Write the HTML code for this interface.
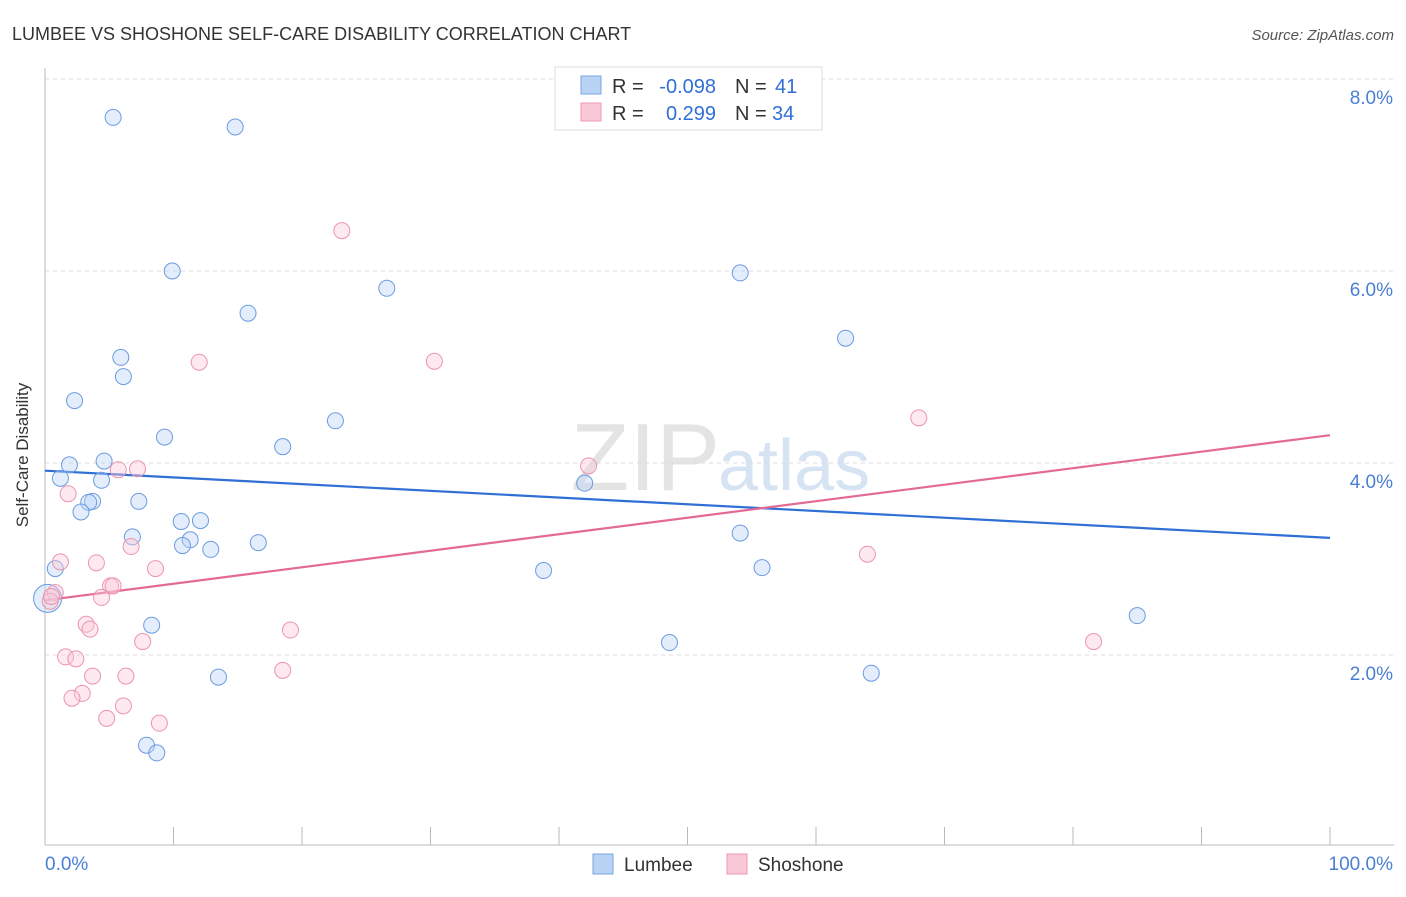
<!DOCTYPE html>
<html><head><meta charset="utf-8"><style>
body{margin:0;background:#fff;font-family:"Liberation Sans",sans-serif}
svg text{font-family:"Liberation Sans",sans-serif}
</style></head><body>
<svg id="c" width="1406" height="892" xmlns="http://www.w3.org/2000/svg">
<text x="12" y="40" font-size="18" fill="#333">LUMBEE VS SHOSHONE SELF-CARE DISABILITY CORRELATION CHART</text>
<text x="1394" y="40" font-size="15" fill="#555" text-anchor="end" font-style="italic">Source: ZipAtlas.com</text>
<text x="720" y="490" font-size="96" fill="#e4e4e4" text-anchor="end" font-family="Liberation Serif">ZIP</text>
<text x="718" y="490" font-size="72" fill="#d6e3f3">atlas</text>
<g id="grid"></g><g id="axes"></g><g id="trend"></g><g id="pts"></g>
<g>
<rect x="555" y="67" width="267" height="63" fill="#fff" stroke="#ddd"/>
<rect x="581" y="76" width="20" height="18" fill="#b9d3f5" stroke="#7aa6e0"/>
<rect x="581" y="103" width="20" height="18" fill="#f9c8d6" stroke="#ec9ab3"/>
<text x="612" y="93" font-size="20" fill="#333">R =</text>
<text x="716" y="93" font-size="20" fill="#2f6fd6" text-anchor="end">-0.098</text>
<text x="735" y="93" font-size="20" fill="#333">N =</text>
<text x="775" y="93" font-size="20" fill="#2f6fd6">41</text>
<text x="612" y="120" font-size="20" fill="#333">R =</text>
<text x="716" y="120" font-size="20" fill="#2f6fd6" text-anchor="end">0.299</text>
<text x="735" y="120" font-size="20" fill="#333">N =</text>
<text x="772" y="120" font-size="20" fill="#2f6fd6">34</text>
</g>
<g>
<rect x="593" y="854" width="20" height="20" fill="#b9d3f5" stroke="#7aa6e0"/>
<text x="624" y="871" font-size="19" fill="#333">Lumbee</text>
<rect x="727" y="854" width="20" height="20" fill="#f9c8d6" stroke="#ec9ab3"/>
<text x="758" y="871" font-size="19" fill="#333">Shoshone</text>
</g>
<text x="28" y="455" font-size="17" fill="#333" text-anchor="middle" transform="rotate(-90 28 455)">Self-Care Disability</text>
</svg>
<script>
const yTicks=[2,4,6,8];
const yTickLabels=["2.0%","4.0%","6.0%","8.0%"];
const xTickLabels=["0.0%","100.0%"];
const lumbeeX=[5.3,14.8,9.9,26.6,54.1,15.8,62.3,5.9,6.1,2.3,22.6,9.3,18.5,1.9,4.6,1.2,4.4,3.7,3.4,7.3,2.8,10.6,12.1,6.8,11.3,10.7,12.9,16.6,42.0,54.1,0.8,38.8,55.8,0.2,8.3,85.0,48.6,13.5,64.3,7.9,8.7];
const lumbeeY=[7.6,7.5,6.0,5.82,5.98,5.56,5.3,5.1,4.9,4.65,4.44,4.27,4.17,3.98,4.02,3.84,3.82,3.6,3.59,3.6,3.49,3.39,3.4,3.23,3.2,3.14,3.1,3.17,3.79,3.27,2.9,2.88,2.91,2.59,2.31,2.41,2.13,1.77,1.81,1.06,0.98];
const lumbeeR=[8,8,8,8,8,8,8,8,8,8,8,8,8,8,8,8,8,8,8,8,8,8,8,8,8,8,8,8,8,8,8,8,8,14,8,8,8,8,8,8,8];
const shoshoneX=[23.1,12.0,30.3,68.0,5.7,7.2,42.3,1.8,6.7,1.2,4.0,8.6,64.0,5.1,5.3,4.4,0.8,0.4,3.2,3.5,19.1,7.6,81.6,1.6,2.4,3.7,6.3,18.5,2.9,2.1,6.1,4.8,8.9,0.5];
const shoshoneY=[6.42,5.05,5.06,4.47,3.93,3.94,3.97,3.68,3.13,2.97,2.96,2.9,3.05,2.72,2.72,2.6,2.65,2.56,2.32,2.27,2.26,2.14,2.14,1.98,1.96,1.78,1.78,1.84,1.6,1.55,1.47,1.34,1.29,2.61];
const lumbeeTrend=[3.92,3.22];
const shoshoneTrend=[2.57,4.29];
const NS="http://www.w3.org/2000/svg";
const X=v=>45+v*12.85, Y=v=>847-v*96;
function mk(t,a,p){const e=document.createElementNS(NS,t);for(const k in a)e.setAttribute(k,a[k]);p.appendChild(e);return e;}
const grid=document.getElementById('grid'),axes=document.getElementById('axes'),tr=document.getElementById('trend'),pts=document.getElementById('pts');
yTicks.forEach((t,i)=>{
 const l=mk('line',{x1:45,x2:1394,y1:Y(t),y2:Y(t),stroke:'#ddd','stroke-dasharray':'4,4'},grid);
 
 
 const tx=mk('text',{x:1393,y:Y(t)+25,'font-size':19,fill:'#4a7fd4','text-anchor':'end'},axes);
 tx.textContent=yTickLabels[i];
 
 
});
const tg=mk('line',{x1:45,x2:1394,y1:79,y2:79,stroke:'#ddd','stroke-dasharray':'4,4'},grid);


const ya=mk('line',{x1:45,x2:45,y1:68,y2:845,stroke:'#bbb'},axes);


const xa=mk('line',{x1:45,x2:1394,y1:845,y2:845,stroke:'#bbb'},axes);


for(let i=0;i<=10;i++){const t=mk('line',{x1:X(i*10),x2:X(i*10),y1:827,y2:845,stroke:'#bbb'},axes);
 
 }
[[0,'start',45],[100,'end',1393]].forEach((d,i)=>{const t=mk('text',{x:d[2],y:870,'font-size':19,fill:'#4a7fd4','text-anchor':d[1]},axes);t.textContent=xTickLabels[i];
 
 });
function series(xs,ys,rs,fill,stroke,name){xs.forEach((x,i)=>{const c=mk('circle',{cx:X(x),cy:Y(ys[i]),r:rs?rs[i]:8,fill:fill,'fill-opacity':0.4,stroke:stroke,'stroke-width':1},pts);
 
 });}
series(lumbeeX,lumbeeY,lumbeeR,'#b9d3f5','#6b9be0','lumbee-point');
series(shoshoneX,shoshoneY,null,'#f9c8d6','#ec94b0','shoshone-point');
const bl=mk('line',{x1:X(0),x2:X(100),y1:Y(lumbeeTrend[0]),y2:Y(lumbeeTrend[1]),stroke:'#2f6fd6','stroke-width':2.2},tr);


const pl=mk('line',{x1:X(0),x2:X(100),y1:Y(shoshoneTrend[0]),y2:Y(shoshoneTrend[1]),stroke:'#e46a95','stroke-width':2.2},tr);


</script>
</body></html>
